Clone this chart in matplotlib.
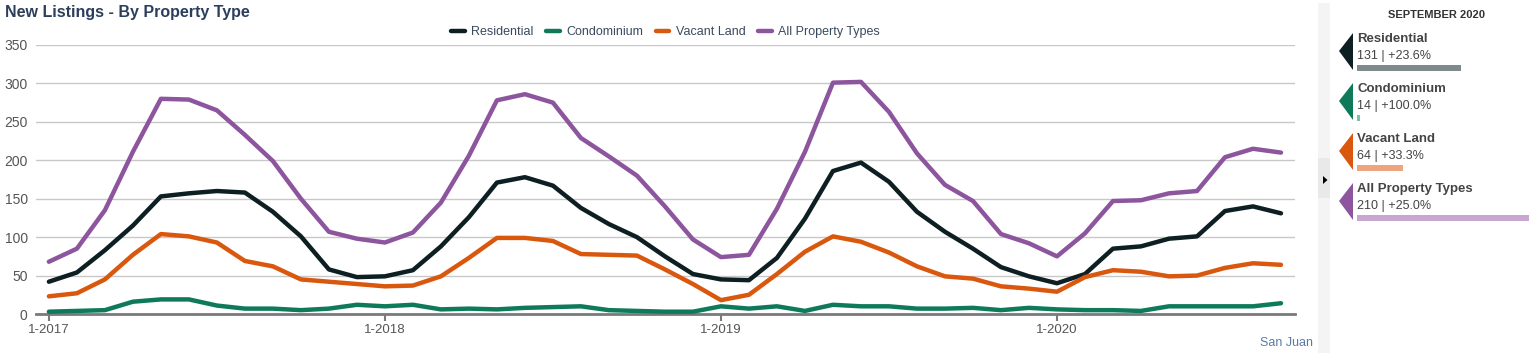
import numpy as np
import matplotlib
matplotlib.use("Agg")
import matplotlib.pyplot as plt
from matplotlib.patches import Polygon, Rectangle

plt.rcParams["font.family"] = ["Liberation Sans", "DejaVu Sans"]

# 월별 신규 매물 (2017-01 ~ 2020-09)
months = np.arange(45)
tick_pos = [0, 12, 24, 36]
tick_labels = ["1-2017", "1-2018", "1-2019", "1-2020"]

residential = [42, 54, 83, 115, 153, 157, 160, 158, 133, 101, 58, 48, 49, 57,
               88, 126, 171, 178, 167, 138, 117, 100, 75, 52, 45, 44, 73, 124,
               186, 197, 172, 133, 107, 85, 61, 49, 40, 52, 85, 88, 98, 101, 134, 140, 131]
condominium = [3, 4, 5, 16, 19, 19, 11, 7, 7, 5, 7, 12, 10, 12,
               6, 7, 6, 8, 9, 10, 5, 4, 3, 3, 10, 7, 10, 4,
               12, 10, 10, 7, 7, 8, 5, 8, 6, 5, 5, 4, 10, 10, 10, 10, 14]
vacant_land = [23, 27, 45, 77, 104, 101, 93, 69, 62, 45, 42, 39, 36, 37,
               49, 73, 99, 99, 95, 78, 77, 76, 58, 39, 18, 25, 52, 81,
               101, 94, 80, 62, 49, 46, 36, 33, 29, 48, 57, 55, 49, 50, 60, 66, 64]
all_types = [68, 85, 135, 211, 280, 279, 265, 233, 199, 150, 107, 98, 93, 106,
             145, 206, 278, 286, 275, 229, 205, 180, 140, 97, 74, 77, 137, 211,
             301, 302, 263, 209, 168, 147, 104, 92, 75, 105, 147, 148, 157, 160, 204, 215, 210]

names = ["Residential", "Condominium", "Vacant Land", "All Property Types"]
colors = ["#0d1f22", "#0e7a5a", "#d9580d", "#8c559e"]
light = ["#7f8a8c", "#7fbfaa", "#eca57f", "#c7a6cf"]
series = [residential, condominium, vacant_land, all_types]

# 패널 (2020년 9월)
panel_vals = [131, 14, 64, 210]
panel_chg = ["+23.6%", "+100.0%", "+33.3%", "+25.0%"]

W, H = 1536, 353
fig = plt.figure(figsize=(W / 100, H / 100), dpi=100)

ax = fig.add_axes([36 / W, 1 - 314 / H, (1295 - 36) / W, (314 - 45) / H])
for y, c, lab in zip(series, colors, names):
    ax.plot(months, y, color=c, lw=3.2, label=lab, solid_capstyle="round", zorder=3)
ax.set_xlim(-0.46, 44.5)
ax.set_ylim(0, 350)
ax.set_yticks(range(0, 351, 50))
ax.grid(axis="y", color="#c8c8c8", lw=1)
ax.set_axisbelow(True)
for s in ["top", "right", "left"]:
    ax.spines[s].set_visible(False)
ax.spines["bottom"].set_color("#7a7a7a")
ax.spines["bottom"].set_linewidth(2)
ax.set_xticks(tick_pos)
ax.set_xticklabels(tick_labels)
ax.tick_params(axis="x", length=5, width=1.5, color="#7a7a7a", labelsize=9.5,
               labelcolor="#555555", pad=2)
ax.tick_params(axis="y", length=0, labelsize=10, labelcolor="#555555", pad=6)
ax.legend(loc="center", bbox_to_anchor=(0.5, 1 + 13 / 269), ncol=4, frameon=False,
          fontsize=9, handlelength=1.1, handletextpad=0.5, columnspacing=1.0,
          labelcolor="#3a4a5e", borderaxespad=0, borderpad=0)

fig.text(5 / W, 1 - 13 / H, "New Listings - By Property Type", fontsize=11.5,
         fontweight="bold", color="#2b3f5c", va="center", ha="left")
fig.text(1313 / W, 1 - 343 / H, "San Juan", fontsize=9, color="#5a7aa6",
         va="center", ha="right")

# 오른쪽 패널 (픽셀 좌표 오버레이)
ov = fig.add_axes([0, 0, 1, 1], zorder=-1)
ov.set_xlim(0, W)
ov.set_ylim(H, 0)
ov.axis("off")
ov.add_patch(Rectangle((1318, 3), 12, H, color="#f4f4f4", lw=0))
ov.add_patch(Rectangle((1318, 158), 12, 40, color="#e9e9e9", lw=0))
ov.add_patch(Polygon([(1323, 176), (1323, 184), (1327.5, 180)], color="black", lw=0))

ov2 = fig.add_axes([0, 0, 1, 1])
ov2.set_xlim(0, W)
ov2.set_ylim(H, 0)
ov2.axis("off")
ov2.text(1436, 15, "SEPTEMBER 2020", fontsize=8, fontweight="bold", color="#333333",
         ha="center", va="center")
for i, (n, c, v, chg) in enumerate(zip(names, colors, panel_vals, panel_chg)):
    top = 33 + 50 * i
    ov2.add_patch(Polygon([(1353, top), (1339, top + 18), (1353, top + 37)], color=c, lw=0))
    ov2.text(1357, top + 6, n, fontsize=9.5, fontweight="bold", color="#444444",
             ha="left", va="center")
    ov2.text(1357, top + 23, f"{v} | {chg}", fontsize=9, color="#444444",
             ha="left", va="center")

# 패널 막대
bax = fig.add_axes([1357 / W, 0, 172 / W, 1])
bax.set_xlim(10, 210)
bax.set_ylim(H, 0)
bax.axis("off")
bar_y = [33 + 50 * i + 35 for i in range(4)]
bax.barh(bar_y, panel_vals, height=5.5, color=light)

fig.savefig("out.png", dpi=100)
